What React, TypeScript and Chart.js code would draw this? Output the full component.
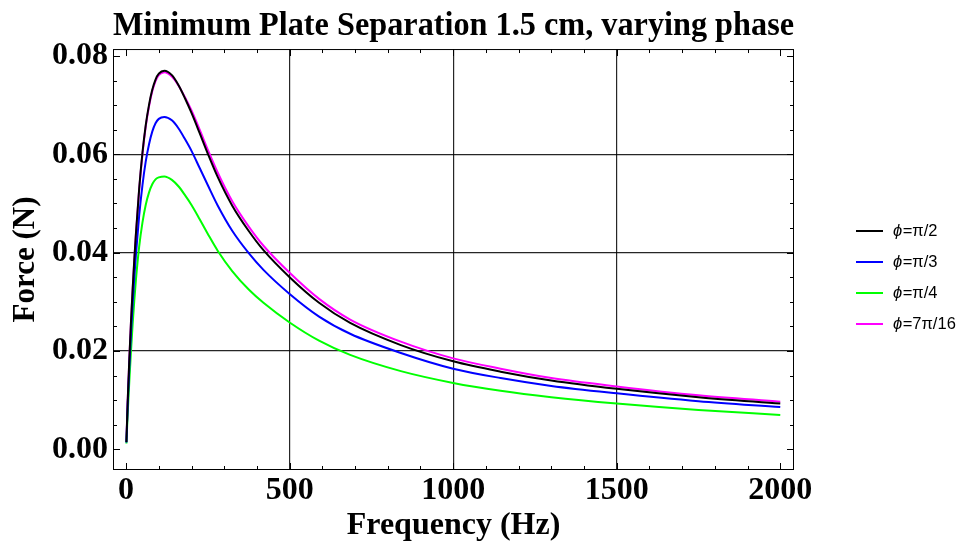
import React, { useEffect, useRef } from "react";
import { Chart, registerables } from "chart.js";

Chart.register(...registerables);

const FREQ = [1, 5, 10, 15, 20, 25, 30, 40, 50, 60, 70, 80, 90, 100, 117, 140, 160, 180, 200, 225, 250, 280, 325, 375, 420, 500, 590, 685, 840, 1000, 1145, 1300, 1500, 1750, 2000];

const F_PI_2 = [0.0015, 0.0100, 0.0185, 0.0260, 0.0325, 0.0385, 0.0438, 0.0530, 0.0603, 0.0659, 0.0700, 0.0731, 0.0752, 0.0764, 0.0770, 0.0761, 0.0741, 0.0714, 0.0684, 0.0643, 0.0601, 0.0554, 0.0495, 0.0444, 0.0405, 0.0350, 0.0298, 0.0257, 0.0212, 0.0179, 0.0158, 0.0140, 0.0123, 0.0106, 0.0093];
const F_PI_3 = [0.0014, 0.0091, 0.0168, 0.0236, 0.0295, 0.0348, 0.0395, 0.0475, 0.0537, 0.0585, 0.0620, 0.0646, 0.0663, 0.0672, 0.0676, 0.0669, 0.0653, 0.0631, 0.0607, 0.0572, 0.0537, 0.0496, 0.0444, 0.0399, 0.0365, 0.0316, 0.0270, 0.0235, 0.0196, 0.0164, 0.0145, 0.0129, 0.0114, 0.0098, 0.0086];
const F_PI_4 = [0.0012, 0.0074, 0.0140, 0.0200, 0.0254, 0.0302, 0.0344, 0.0412, 0.0461, 0.0497, 0.0522, 0.0539, 0.0549, 0.0553, 0.0555, 0.0548, 0.0535, 0.0517, 0.0497, 0.0468, 0.0438, 0.0404, 0.0362, 0.0325, 0.0298, 0.0258, 0.0221, 0.0192, 0.0159, 0.0135, 0.0119, 0.0106, 0.0093, 0.0080, 0.0070];
const F_7PI_16 = [0.0015, 0.0100, 0.0184, 0.0259, 0.0324, 0.0383, 0.0436, 0.0528, 0.0600, 0.0656, 0.0697, 0.0728, 0.0749, 0.0761, 0.0767, 0.0758, 0.0740, 0.0716, 0.0689, 0.0650, 0.0609, 0.0563, 0.0504, 0.0453, 0.0414, 0.0359, 0.0306, 0.0264, 0.0219, 0.0185, 0.0164, 0.0145, 0.0128, 0.0110, 0.0097];

const SERIES_LABELS = ["ϕ=π/2", "ϕ=π/3", "ϕ=π/4", "ϕ=7π/16"];
const SERIES_COLORS = ["#000000", "#0000ff", "#00ff00", "#ff00ff"];

const X_TICKS = [0, 500, 1000, 1500, 2000];
const Y_TICKS = [0, 0.02, 0.04, 0.06, 0.08];
const X_GRID = [500, 1000, 1500];
const Y_GRID = [0.02, 0.04, 0.06];
const X_MINOR_STEP = 100;
const Y_MINOR_STEP = 0.005;

const TITLE = "Minimum Plate Separation 1.5 cm, varying phase";
const X_TITLE = "Frequency (Hz)";
const Y_TITLE = "Force (N)";

const SERIF = "'Liberation Serif', 'Times New Roman', serif";
const SANS = "'Liberation Sans', Arial, sans-serif";

const framePlugin = {
  id: "frameTicks",
  afterDraw(chart: any) {
    const { ctx, chartArea } = chart;
    const xs = chart.scales.x;
    const ys = chart.scales.y;
    const { left, right, top, bottom } = chartArea;
    ctx.save();
    ctx.strokeStyle = "#000";
    ctx.lineWidth = 1;
    ctx.strokeRect(left + 0.5, top + 0.5, right - left - 1, bottom - top - 1);
    const major = 7;
    const minor = 4;
    ctx.beginPath();
    for (let i = 0; i <= 20; i++) {
      const v = i * X_MINOR_STEP;
      const px = Math.round(xs.getPixelForValue(v)) + 0.5;
      const len = i % 5 === 0 ? major : minor;
      ctx.moveTo(px, bottom);
      ctx.lineTo(px, bottom - len);
      ctx.moveTo(px, top);
      ctx.lineTo(px, top + len);
    }
    for (let i = 0; i <= 16; i++) {
      const v = i * Y_MINOR_STEP;
      const py = Math.round(ys.getPixelForValue(v)) + 0.5;
      const len = i % 4 === 0 ? major : minor;
      ctx.moveTo(left, py);
      ctx.lineTo(left + len, py);
      ctx.moveTo(right, py);
      ctx.lineTo(right - len, py);
    }
    ctx.stroke();

    // legend
    const startY = 231;
    const gap = 31;
    chart.data.datasets.forEach((ds: any, i: number) => {
      const y = startY + i * gap;
      ctx.strokeStyle = ds.borderColor;
      ctx.lineWidth = 2;
      ctx.beginPath();
      ctx.moveTo(856, y);
      ctx.lineTo(883, y);
      ctx.stroke();
      const label: string = ds.label;
      ctx.fillStyle = "#000";
      ctx.textBaseline = "middle";
      ctx.textAlign = "left";
      ctx.font = `italic 16.5px ${SANS}`;
      const first = label.charAt(0);
      ctx.fillText(first, 893, y);
      const w = ctx.measureText(first).width;
      ctx.font = `16.5px ${SANS}`;
      ctx.fillText(label.slice(1), 893 + w + 0.5, y);
    });
    ctx.restore();
  },
};

export default function App() {
  const ref = useRef<HTMLCanvasElement>(null);
  useEffect(() => {
    if (!ref.current) return;
    const seriesValues = [F_PI_2, F_PI_3, F_PI_4, F_7PI_16];
    const chart = new Chart(ref.current, {
      type: "line",
      data: {
        datasets: seriesValues.map((vals, i) => ({
          label: SERIES_LABELS[i],
          data: FREQ.map((f, j) => ({ x: f, y: vals[j] })),
          borderColor: SERIES_COLORS[i],
          backgroundColor: SERIES_COLORS[i],
          borderWidth: 2,
          pointRadius: 0,
          cubicInterpolationMode: "monotone",
          fill: false,
        })),
      },
      options: {
        responsive: false,
        animation: false,
        layout: { padding: { left: 0, right: 174, top: 0, bottom: 0 } },
        plugins: {
          legend: { display: false },
          tooltip: { enabled: false },
          title: {
            display: true,
            text: TITLE,
            fullSize: false,
            color: "#000",
            font: { family: SERIF, size: 34.2, weight: "bold" },
            padding: { top: 5.5, bottom: 2.5 },
          },
        },
        scales: {
          x: {
            type: "linear",
            min: -40,
            max: 2042,
            afterBuildTicks: (s: any) => {
              s.ticks = X_TICKS.map((v) => ({ value: v }));
            },
            afterFit: (s: any) => {
              s.height = 78;
            },
            grid: {
              drawTicks: false,
              color: (c: any) => (c.tick && X_GRID.includes(c.tick.value) ? "rgba(0,0,0,0.85)" : "rgba(0,0,0,0)"),
              lineWidth: 1.2,
            },
            border: { display: false },
            ticks: {
              color: "#000",
              padding: 2,
              maxRotation: 0,
              font: { family: SERIF, size: 32, weight: "bold" },
              callback: (v: any) => String(v),
            },
            title: {
              display: true,
              text: X_TITLE,
              color: "#000",
              font: { family: SERIF, size: 32, weight: "bold" },
              padding: { top: 0, bottom: 3 },
            },
          },
          y: {
            type: "linear",
            min: -0.0042,
            max: 0.0814,
            afterBuildTicks: (s: any) => {
              s.ticks = Y_TICKS.map((v) => ({ value: v }));
            },
            afterFit: (s: any) => {
              s.width = 113;
            },
            grid: {
              drawTicks: false,
              color: (c: any) => (c.tick && Y_GRID.some((g) => Math.abs(g - c.tick.value) < 1e-9) ? "rgba(0,0,0,0.85)" : "rgba(0,0,0,0)"),
              lineWidth: 1.2,
            },
            border: { display: false },
            ticks: {
              color: "#000",
              padding: 5,
              font: { family: SERIF, size: 32, weight: "bold" },
              callback: (v: any) => Number(v).toFixed(2),
            },
            title: {
              display: true,
              text: Y_TITLE,
              color: "#000",
              font: { family: SERIF, size: 31, weight: "bold" },
              padding: { top: 7, bottom: 0 },
            },
          },
        },
      },
      plugins: [framePlugin],
    });
    return () => chart.destroy();
  }, []);
  return (
    <div style={{ position: "absolute", left: 0, top: 0, width: 968, height: 548, background: "#fff" }}>
      <canvas ref={ref} width={968} height={548} style={{ width: 968, height: 548 }} />
    </div>
  );
}
